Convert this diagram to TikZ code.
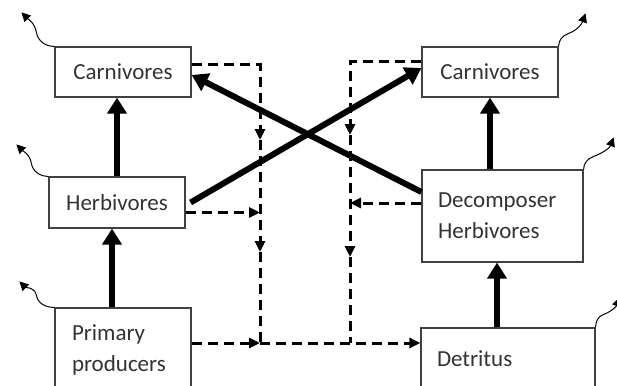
\documentclass[tikz,border=0pt]{standalone}
\usepackage{fontspec}
\setmainfont{Carlito}
\usetikzlibrary{arrows.meta}

\begin{document}
\begin{tikzpicture}[x=1pt, y=-1pt,
  box/.style={draw=black!75, line width=1.2pt, minimum height=50pt,
    inner sep=0pt, text=black!80, font=\fontsize{23}{31}\selectfont},
  flow/.style={line width=6pt, -{Triangle[length=16pt,width=19pt]}},
  dashline/.style={line width=3pt, dash pattern=on 10pt off 6pt},
  dasharr/.style={dashline, -{Triangle[length=11pt,width=10pt]}},
  loss/.style={line width=1pt, -{Triangle[length=9pt,width=9pt]}}]

  % page frame
  \useasboundingbox (0,0) rectangle (617,385);
  \clip (0,0) rectangle (617,385);

  % left food chain
  \node[box, minimum width=136pt] (carnL) at (123,72) {Carnivores};
  \node[box, minimum width=136pt, minimum height=51pt] (herbL) at (117,202.5) {Herbivores};
  \node[box, minimum width=136pt, minimum height=84pt, text width=102pt,
    inner xsep=17pt, align=left] (prim) at (123,350) {Primary\\producers};

  % right food chain
  \node[box, minimum width=136pt] (carnR) at (490,72) {Carnivores};
  \node[box, minimum width=161pt, minimum height=92pt, text width=129pt,
    inner xsep=16pt, align=left] (decomp) at (502.5,216) {Decomposer\\Herbivores};
  \node[box, minimum width=174pt, minimum height=62pt, text width=142pt,
    inner xsep=16pt, align=left] (detr) at (508,359) {Detritus};

  % energy transfer
  \draw[flow] (herbL.north) -- (herbL.north |- carnL.south);
  \draw[flow] ([xshift=-11pt]prim.north) -- ([xshift=-11pt]prim.north |- herbL.south);
  \draw[flow] (carnR.south |- decomp.north) -- (carnR.south);
  \draw[flow] ([xshift=-11pt]detr.north) -- ([xshift=-11pt]detr.north |- decomp.south);
  \draw[flow] ([xshift=5pt]herbL.east) -- ([yshift=4pt]carnR.west);
  \draw[flow] ([yshift=24pt]decomp.west) -- ([yshift=-3pt]carnL.east);

  % dead matter to detritus
  \coordinate (dl1) at (260,140);
  \coordinate (dl2) at (260,252);
  \coordinate (bl) at (260,343);
  \coordinate (dr1) at (350,135);
  \coordinate (dr2) at (350,257);
  \coordinate (br) at (350,343);

  \draw[dasharr] ([yshift=7pt]carnL.east) -| (dl1);
  \draw[dasharr] (dl1) -- (dl2);
  \draw[dashline] (dl2) -- (bl);
  \draw[dasharr] ([yshift=-10pt]herbL.east) -- ([yshift=-10pt]herbL.east -| bl);
  \draw[dasharr] ([yshift=7pt]prim.east) -- (bl);
  \draw[dasharr] (bl) -- (detr.west |- bl);

  \draw[dasharr] ([yshift=10pt]carnR.west) -| (dr1);
  \draw[dasharr] (dr1) -- (dr2);
  \draw[dashline] (dr2) -- (br);
  \draw[dasharr] ([yshift=13pt]decomp.west) -- ([yshift=13pt]decomp.west -| br);

  % heat losses
  \draw[loss] (carnL.north west) to[out=180,in=-80] ++(-18,-14) to[out=100,in=-45] ++(-15,-20);
  \draw[loss] (herbL.north west) to[out=180,in=-80] ++(-17,-13) to[out=100,in=-45] ++(-15,-19);
  \draw[loss] (prim.north west) to[out=180,in=-80] ++(-18,-12) to[out=100,in=-45] ++(-17,-14);
  \draw[loss] (carnR.north east) to[out=90,in=200] ++(10,-13) to[out=20,in=-110] ++(17,-20);
  \draw[loss] (decomp.north east) to[out=90,in=200] ++(10,-13) to[out=20,in=-110] ++(20,-19);
  \draw[loss] (detr.north east) to[out=90,in=200] ++(8,-13) to[out=20,in=-110] ++(16,-17);
\end{tikzpicture}
\end{document}
